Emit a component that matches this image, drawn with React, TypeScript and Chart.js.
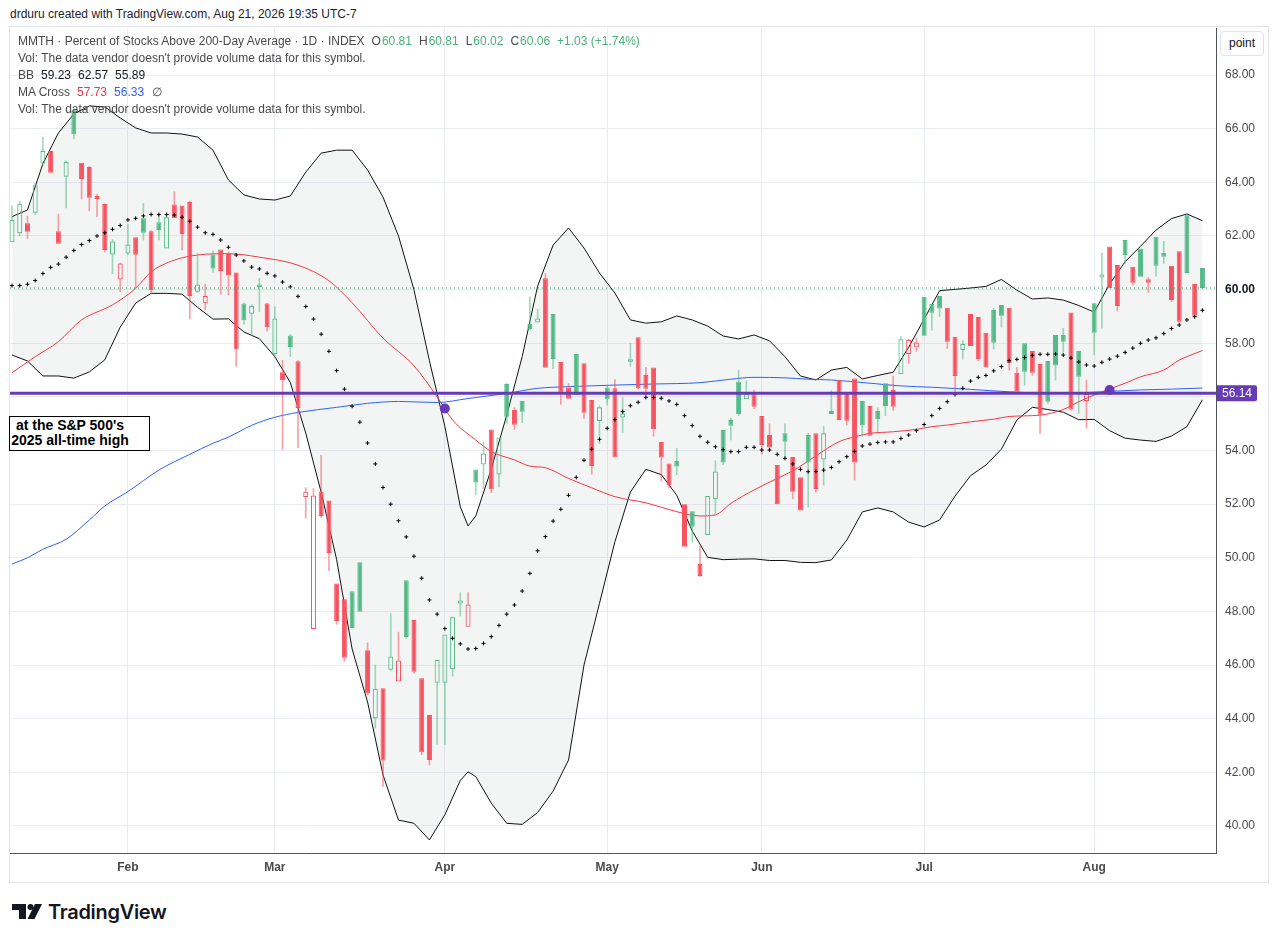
import React, { useEffect, useRef } from "react";
import { Chart, registerables } from "chart.js";

Chart.register(...registerables);

const FONT = '"Liberation Sans", Arial, sans-serif';

// Daily candles, index 1..155 (Jan 9 2026 – Aug 21 2026)
const openV = [
  61.77, 62.10, 62.47, 62.87, 64.70, 65.17, 62.18, 64.21, 66.69, 64.73,
  64.57, 63.49, 63.19, 61.31, 60.38, 61.35, 61.95, 62.66, 62.18, 62.51,
  61.53, 63.17, 63.14, 63.27, 59.92, 59.49, 61.31, 61.50, 61.37, 60.64,
  59.48, 59.10, 60.19, 59.48, 57.59, 56.92, 58.29, 57.33, 52.27, 47.35,
  52.46, 52.14, 49.04, 48.45, 48.75, 49.83, 46.55, 44.02, 45.14, 45.83,
  45.39, 49.16, 47.68, 45.51, 44.14, 45.34, 45.34, 45.84, 48.30, 47.43,
  53.29, 53.48, 54.78, 53.11, 56.48, 55.51, 55.85, 58.72, 58.77, 60.42,
  59.09, 57.30, 56.35, 57.60, 57.25, 55.88, 55.10, 56.35, 56.32, 55.23,
  57.31, 58.22, 56.82, 57.10, 54.32, 53.52, 53.61, 52.00, 51.74, 49.77,
  50.85, 52.18, 54.77, 55.14, 56.56, 55.91, 56.10, 55.29, 54.58, 53.46,
  54.64, 53.76, 53.00, 54.58, 54.64, 53.67, 55.47, 56.63, 56.18, 56.69,
  55.85, 55.66, 55.47, 56.51, 56.26, 56.84, 57.60, 57.84, 59.73, 59.46,
  59.76, 59.32, 58.24, 57.75, 59.09, 58.98, 58.39, 59.24, 59.43, 59.32,
  56.90, 58.00, 57.71, 57.23, 57.34, 58.31, 58.31, 59.15, 57.71, 55.85,
  59.49, 60.45, 61.61, 60.92, 61.85, 60.85, 61.53, 60.39, 61.97, 61.37,
  60.89, 61.43, 62.77, 60.21, 60.81,
];
const highV = [
  63.12, 63.30, 62.74, 63.95, 65.69, 65.17, 62.82, 64.80, 66.75, 64.73,
  64.60, 63.55, 63.20, 61.87, 61.00, 62.43, 61.95, 63.22, 62.20, 62.82,
  62.85, 63.65, 63.15, 63.30, 61.35, 60.20, 61.45, 61.50, 61.40, 60.64,
  59.50, 59.45, 60.42, 59.50, 59.36, 57.36, 58.33, 57.35, 52.61, 52.58,
  53.82, 52.14, 49.04, 48.45, 48.75, 49.83, 46.83, 46.00, 45.14, 47.92,
  47.23, 49.16, 47.68, 45.51, 44.14, 46.19, 47.14, 47.80, 48.70, 48.70,
  53.29, 54.32, 54.78, 54.49, 56.50, 55.60, 55.85, 59.73, 59.27, 60.60,
  59.09, 57.30, 56.50, 57.60, 57.25, 55.88, 55.66, 56.40, 56.65, 55.97,
  58.00, 58.22, 57.10, 57.10, 54.32, 53.52, 54.08, 52.00, 51.74, 50.44,
  52.30, 53.62, 54.77, 55.20, 57.00, 56.60, 56.25, 55.29, 55.00, 53.46,
  55.00, 53.76, 53.00, 54.64, 54.64, 54.89, 56.23, 56.63, 56.18, 56.69,
  55.85, 55.66, 55.60, 56.51, 56.78, 58.25, 58.15, 58.20, 59.73, 59.46,
  59.76, 59.32, 58.24, 58.10, 59.09, 58.98, 58.39, 59.30, 59.43, 59.32,
  57.10, 58.00, 57.71, 57.23, 57.34, 58.31, 58.56, 59.15, 57.71, 56.63,
  59.49, 61.35, 61.61, 60.92, 61.85, 60.85, 61.53, 60.45, 61.97, 61.80,
  60.89, 61.43, 62.85, 60.21, 60.81,
];
const lowV = [
  61.77, 62.00, 61.90, 62.80, 64.65, 64.36, 61.71, 63.05, 65.62, 63.38,
  62.94, 62.72, 61.40, 60.60, 59.92, 61.30, 60.05, 61.85, 59.84, 61.85,
  61.53, 62.66, 61.48, 58.90, 59.90, 59.24, 60.64, 59.83, 59.80, 57.15,
  58.71, 58.29, 59.18, 58.45, 57.55, 54.04, 57.50, 54.11, 51.48, 47.35,
  51.50, 49.52, 47.52, 46.13, 47.38, 47.99, 44.90, 43.65, 41.48, 45.80,
  45.39, 47.00, 45.70, 42.66, 42.27, 43.04, 43.04, 45.59, 47.83, 47.43,
  52.36, 52.58, 52.43, 52.64, 55.01, 54.79, 55.04, 58.50, 58.77, 57.09,
  57.05, 55.72, 55.93, 56.07, 55.20, 53.12, 54.26, 55.70, 53.74, 54.67,
  57.15, 56.30, 56.00, 54.54, 52.87, 52.60, 53.10, 50.41, 50.59, 49.30,
  50.85, 51.66, 53.47, 54.40, 55.30, 55.91, 55.56, 53.86, 54.00, 52.00,
  53.70, 52.20, 51.76, 51.90, 52.45, 52.71, 55.36, 55.14, 54.95, 52.90,
  54.52, 54.55, 54.70, 55.30, 55.50, 56.84, 57.25, 57.70, 58.28, 58.49,
  58.99, 57.80, 56.07, 57.40, 57.90, 57.35, 57.10, 57.78, 58.60, 57.00,
  56.19, 56.44, 56.80, 54.64, 55.76, 56.63, 57.66, 55.50, 55.38, 54.83,
  57.56, 58.56, 60.05, 59.20, 60.98, 60.17, 60.48, 59.90, 60.50, 60.98,
  59.55, 58.75, 60.62, 59.00, 60.02,
];
const closeV = [
  62.60, 63.20, 62.16, 63.89, 65.17, 64.36, 61.71, 64.76, 65.79, 64.12,
  63.43, 63.38, 61.48, 61.79, 60.97, 61.68, 61.30, 62.12, 59.98, 62.22,
  62.70, 62.66, 62.07, 59.76, 60.19, 59.76, 60.79, 60.69, 60.54, 57.77,
  58.86, 59.39, 60.10, 58.60, 58.92, 56.62, 57.86, 55.59, 52.46, 52.32,
  51.56, 50.18, 47.64, 46.27, 47.38, 47.99, 44.94, 45.12, 42.44, 46.32,
  46.17, 47.05, 45.75, 42.75, 42.46, 46.19, 47.14, 47.78, 48.41, 48.26,
  52.81, 53.89, 52.56, 54.49, 55.26, 54.96, 55.45, 58.53, 58.92, 57.09,
  57.41, 56.16, 55.93, 56.07, 55.41, 53.42, 55.61, 55.91, 53.74, 55.38,
  57.40, 56.32, 56.30, 54.79, 53.74, 52.71, 53.40, 50.41, 51.16, 49.32,
  52.30, 53.22, 53.55, 54.92, 55.36, 56.13, 55.63, 54.21, 54.11, 52.00,
  54.33, 52.46, 51.76, 53.55, 52.57, 54.64, 55.36, 55.14, 55.11, 53.55,
  54.94, 54.55, 55.17, 55.66, 55.63, 58.15, 58.12, 58.03, 58.28, 59.14,
  59.30, 58.06, 56.78, 57.97, 57.90, 57.40, 57.10, 58.02, 59.03, 57.25,
  56.19, 56.94, 56.90, 55.33, 55.82, 57.17, 58.06, 55.53, 56.75, 56.11,
  58.39, 60.56, 60.05, 59.39, 61.29, 60.26, 60.48, 60.26, 60.89, 61.23,
  59.61, 58.80, 60.62, 59.03, 60.06,
];

// Bollinger basis (20-day SMA), one dot per candle
const basisV = [
  60.15, 60.15, 60.20, 60.34, 60.60, 60.83, 60.95, 61.21, 61.46, 61.68,
  61.83, 62.00, 62.12, 62.25, 62.39, 62.60, 62.66, 62.75, 62.80, 62.80,
  62.80, 62.78, 62.70, 62.55, 62.33, 62.12, 62.06, 61.85, 61.58, 61.29,
  61.07, 60.84, 60.77, 60.61, 60.51, 60.28, 60.10, 59.75, 59.37, 58.90,
  58.34, 57.70, 56.98, 56.29, 55.65, 55.06, 54.28, 53.50, 52.62, 52.00,
  51.38, 50.78, 50.06, 49.24, 48.43, 47.90, 47.36, 47.00, 46.79, 46.60,
  46.62, 46.81, 47.06, 47.48, 47.90, 48.24, 48.76, 49.42, 50.26, 50.79,
  51.37, 51.81, 52.33, 53.00, 53.64, 54.05, 54.42, 54.83, 55.15, 55.45,
  55.67, 55.80, 55.98, 55.98, 55.95, 55.85, 55.72, 55.30, 54.93, 54.53,
  54.31, 54.14, 54.03, 53.96, 53.96, 54.12, 54.12, 54.02, 54.02, 53.86,
  53.71, 53.50, 53.30, 53.21, 53.22, 53.27, 53.37, 53.58, 53.77, 53.97,
  54.17, 54.24, 54.30, 54.32, 54.32, 54.45, 54.58, 54.74, 54.97, 55.30,
  55.57, 55.82, 56.09, 56.32, 56.59, 56.73, 56.80, 56.97, 57.13, 57.35,
  57.40, 57.47, 57.55, 57.59, 57.59, 57.60, 57.56, 57.45, 57.30, 57.19,
  57.15, 57.29, 57.41, 57.52, 57.66, 57.82, 58.00, 58.12, 58.20, 58.36,
  58.55, 58.68, 58.87, 58.99, 59.23,
];

// Bollinger upper / lower bands, sampled at these candle indices
const bbIdx = [
  1, 3, 5, 7, 9, 11, 13, 15, 17, 19, 21, 23, 25, 27, 29, 31, 33, 35, 37, 39,
  41, 43, 45, 47, 49, 51, 53, 55, 57, 59, 60, 61, 63, 65, 67, 69, 71, 73, 75, 77,
  79, 81, 83, 85, 87, 89, 91, 93, 95, 97, 99, 101, 103, 105, 107, 109, 111, 113, 115, 117,
  119, 121, 123, 125, 127, 129, 131, 133, 135, 137, 139, 141, 143, 145, 147, 149, 151, 153, 155,
];
const bbUpper = [
  62.72, 62.97, 64.70, 65.84, 66.55, 66.85, 66.81, 66.40, 66.03, 65.84,
  65.84, 65.80, 65.69, 65.20, 64.09, 63.53, 63.38, 63.34, 63.49, 64.38,
  65.09, 65.20, 65.20, 64.46, 63.45, 62.00, 60.00, 57.35, 54.90, 51.90,
  51.19, 51.56, 53.31, 55.32, 57.50, 60.13, 61.66, 62.30, 61.55, 60.62,
  59.87, 58.87, 58.75, 58.80, 59.02, 58.87, 58.64, 58.27, 58.16, 58.31,
  58.09, 57.50, 56.78, 56.63, 57.00, 57.10, 56.67, 56.80, 56.92, 57.85,
  58.90, 59.96, 60.01, 60.06, 60.12, 60.38, 59.98, 59.65, 59.69, 59.61,
  59.41, 59.16, 60.21, 61.04, 61.62, 62.22, 62.65, 62.82, 62.57,
];
const bbLower = [
  57.56, 57.34, 56.78, 56.78, 56.70, 56.93, 57.38, 58.60, 59.50, 59.86,
  59.86, 59.83, 59.34, 58.90, 58.91, 58.42, 58.17, 57.50, 56.54, 54.65,
  52.44, 49.93, 46.60, 44.62, 41.90, 40.22, 40.10, 39.48, 40.42, 41.70,
  42.02, 41.84, 40.85, 40.10, 40.06, 40.50, 41.30, 42.46, 46.00, 48.30,
  50.60, 52.45, 53.30, 53.10, 52.33, 51.00, 50.02, 49.93, 49.95, 49.96,
  49.90, 49.90, 49.83, 49.82, 49.92, 50.66, 51.71, 51.86, 51.71, 51.33,
  51.15, 51.41, 52.30, 53.06, 53.46, 54.05, 55.14, 55.61, 55.53, 55.43,
  55.15, 55.16, 54.74, 54.46, 54.39, 54.34, 54.54, 54.89, 55.89,
];

// MA Cross: 50-day (red) and 200-day (blue) moving averages
const ma50Idx = [
  1, 4, 7, 10, 14, 17, 19, 22, 25, 29, 33, 38, 42, 45, 49, 53, 56, 58, 61, 63,
  66, 68, 70, 73, 76, 79, 83, 87, 90, 92, 94, 97, 100, 102, 105, 108, 110, 112, 115, 118,
  120, 122, 125, 128, 130, 134, 137, 139, 142, 145, 147, 150, 152, 155,
];
const ma50V = [
  56.90, 57.50, 58.06, 58.87, 59.43, 60.05, 60.66, 61.10, 61.29, 61.34,
  61.21, 60.91, 60.33, 59.51, 58.19, 57.16, 56.00, 55.14, 54.39, 53.96,
  53.65, 53.42, 53.36, 52.96, 52.61, 52.28, 52.05, 51.72, 51.56, 51.60,
  52.03, 52.53, 52.96, 53.24, 53.80, 54.33, 54.51, 54.64, 54.70, 54.79,
  54.89, 54.95, 55.07, 55.17, 55.27, 55.32, 55.53, 55.82, 56.19, 56.51,
  56.75, 57.00, 57.37, 57.73,
];
const ma200Idx = [
  1, 3, 5, 8, 11, 13, 16, 20, 24, 27, 29, 32, 35, 38, 43, 47, 51, 56, 60, 65,
  69, 73, 79, 84, 90, 94, 97, 101, 104, 107, 112, 116, 120, 125, 130, 137, 142, 147, 151, 155,
];
const ma200V = [
  49.77, 50.00, 50.32, 50.69, 51.41, 51.93, 52.47, 53.27, 53.86, 54.27,
  54.50, 54.94, 55.24, 55.42, 55.61, 55.76, 55.83, 55.79, 55.94, 56.13,
  56.32, 56.38, 56.44, 56.48, 56.53, 56.66, 56.73, 56.71, 56.66, 56.63,
  56.51, 56.41, 56.36, 56.28, 56.19, 56.13, 56.19, 56.26, 56.29, 56.33,
];
// MA cross markers
const crossIdx = [57, 143];
const crossV = [55.57, 56.26];

// Axis ticks / labels
const monthIdx = [16, 35, 57, 78, 98, 119, 141];
const monthLabels = ["Feb", "Mar", "Apr", "May", "Jun", "Jul", "Aug"];
const yTicks = [40, 42, 44, 46, 48, 50, 52, 54, 56, 58, 60, 62, 64, 66, 68];
const xRange = [0.741, 156.76];
const yRange = [38.993, 69.755];

// Horizontal line (S&P 500 2025 all-time high level) and last close
const hLineValue = 56.14;
const lastClose = 60.06;

const GREEN = "#53b987";
const RED = "#f7525f";
const GREEN_W = "rgba(83,185,135,0.55)";
const RED_W = "rgba(247,82,95,0.55)";
const PURPLE = "#673ab7";
const GRID = "#e9edf2";
const TXT = "#4a4a4a";

function buildConfig(): any {
  const n = closeV.length;
  const up = (i: number) => (i === 0 ? closeV[0] >= openV[0] : closeV[i] >= closeV[i - 1]);
  const bodies: any[] = [];
  const bodyBg: string[] = [];
  const bodyBorder: string[] = [];
  const wickHi: any[] = [];
  const wickHiC: string[] = [];
  const wickLo: any[] = [];
  const wickLoC: string[] = [];
  for (let i = 0; i < n; i++) {
    const o = openV[i], c = closeV[i];
    const top = Math.max(o, c), bot = Math.min(o, c);
    const col = up(i) ? GREEN : RED;
    const wc = up(i) ? GREEN_W : RED_W;
    bodies.push({ x: i + 1, y: [o, c] });
    bodyBg.push(c > o ? "rgba(0,0,0,0)" : col);
    bodyBorder.push(col);
    if (highV[i] > top + 0.01) {
      wickHi.push({ x: i + 1, y: [top, highV[i]] });
      wickHiC.push(wc);
    }
    if (lowV[i] < bot - 0.01) {
      wickLo.push({ x: i + 1, y: [lowV[i], bot] });
      wickLoC.push(wc);
    }
  }

  const line = (idx: number[], vals: number[]) => idx.map((x, k) => ({ x, y: vals[k] }));

  const priceTag = {
    id: "priceTag",
    afterDraw(chart: any) {
      const { ctx, chartArea, scales } = chart;
      const y = scales.y.getPixelForValue(hLineValue);
      const x0 = chartArea.right + 1;
      const w = 40, h = 16;
      ctx.save();
      ctx.fillStyle = PURPLE;
      ctx.beginPath();
      ctx.moveTo(x0, y - h / 2);
      ctx.lineTo(x0 + w - 2, y - h / 2);
      ctx.quadraticCurveTo(x0 + w, y - h / 2, x0 + w, y - h / 2 + 2);
      ctx.lineTo(x0 + w, y + h / 2 - 2);
      ctx.quadraticCurveTo(x0 + w, y + h / 2, x0 + w - 2, y + h / 2);
      ctx.lineTo(x0, y + h / 2);
      ctx.closePath();
      ctx.fill();
      ctx.fillStyle = "#ffffff";
      ctx.font = `12px ${FONT}`;
      ctx.textAlign = "center";
      ctx.textBaseline = "middle";
      ctx.fillText(hLineValue.toFixed(2), x0 + w / 2, y + 1);
      ctx.restore();
    },
  };

  const zeroPad = (s: any) => {
    s.paddingTop = 0;
    s.paddingBottom = 0;
    s.paddingLeft = 0;
    s.paddingRight = 0;
  };

  return {
    type: "bar",
    data: {
      datasets: [
        {
          type: "line",
          data: line(bbIdx, bbUpper),
          borderColor: "#111",
          borderWidth: 1,
          pointRadius: 0,
          fill: "+1",
          backgroundColor: "rgba(100,120,120,0.075)",
          order: 10,
        },
        {
          type: "line",
          data: line(bbIdx, bbLower),
          borderColor: "#111",
          borderWidth: 1,
          pointRadius: 0,
          fill: false,
          order: 9,
        },
        {
          type: "line",
          data: line(ma200Idx, ma200V),
          borderColor: "#2962ff",
          borderWidth: 1,
          pointRadius: 0,
          cubicInterpolationMode: "monotone",
          fill: false,
          order: 8,
        },
        {
          type: "line",
          data: line(ma50Idx, ma50V),
          borderColor: "#f23645",
          borderWidth: 1,
          pointRadius: 0,
          cubicInterpolationMode: "monotone",
          fill: false,
          order: 7,
        },
        {
          type: "bar",
          data: wickHi,
          backgroundColor: wickHiC,
          borderWidth: 0,
          barThickness: 1,
          grouped: false,
          order: 6,
        },
        {
          type: "bar",
          data: wickLo,
          backgroundColor: wickLoC,
          borderWidth: 0,
          barThickness: 1,
          grouped: false,
          order: 6,
        },
        {
          type: "bar",
          data: bodies,
          backgroundColor: bodyBg,
          borderColor: bodyBorder,
          borderWidth: 1,
          borderSkipped: false,
          barThickness: 5,
          minBarLength: 1,
          inflateAmount: 0,
          grouped: false,
          order: 5,
        },
        {
          type: "line",
          data: basisV.map((v, k) => ({ x: k + 1, y: v })),
          showLine: false,
          pointStyle: "cross",
          pointRadius: 2,
          pointBorderWidth: 1,
          pointBorderColor: "#000",
          pointBackgroundColor: "#000",
          order: 4,
        },
        {
          type: "line",
          data: [
            { x: xRange[0], y: hLineValue },
            { x: xRange[1], y: hLineValue },
          ],
          borderColor: PURPLE,
          borderWidth: 3,
          pointRadius: 0,
          fill: false,
          order: 3,
        },
        {
          type: "line",
          data: [
            { x: xRange[0], y: lastClose },
            { x: xRange[1], y: lastClose },
          ],
          borderColor: "#1fa463",
          borderWidth: 1,
          borderDash: [1, 3],
          pointRadius: 0,
          fill: false,
          order: 2,
        },
        {
          type: "line",
          data: line(crossIdx, crossV),
          showLine: false,
          pointRadius: 5,
          pointBackgroundColor: PURPLE,
          pointBorderWidth: 0,
          order: 1,
        },
      ],
    },
    options: {
      animation: false,
      responsive: false,
      maintainAspectRatio: false,
      events: [],
      layout: { autoPadding: false, padding: { left: 0, right: 0, top: 1, bottom: 0 } },
      plugins: { legend: { display: false }, tooltip: { enabled: false } },
      scales: {
        x: {
          type: "linear",
          min: xRange[0],
          max: xRange[1],
          offset: false,
          grid: { color: GRID, offset: false, drawTicks: false },
          border: { display: true, color: "#50535e" },
          afterBuildTicks: (s: any) => {
            s.ticks = monthIdx.map((v) => ({ value: v }));
          },
          afterFit: (s: any) => {
            s.height = 29;
            zeroPad(s);
          },
          ticks: {
            autoSkip: false,
            maxRotation: 0,
            padding: 7,
            color: TXT,
            font: { family: FONT, size: 12, weight: "bold" },
            callback: (v: any) => {
              const k = monthIdx.indexOf(Number(v));
              return k >= 0 ? monthLabels[k] : "";
            },
          },
        },
        y: {
          type: "linear",
          position: "right",
          min: yRange[0],
          max: yRange[1],
          beginAtZero: false,
          grid: { color: GRID, drawTicks: false },
          border: { display: true, color: "#50535e" },
          afterBuildTicks: (s: any) => {
            s.ticks = yTicks.map((v) => ({ value: v }));
          },
          afterFit: (s: any) => {
            s.width = 52;
            zeroPad(s);
          },
          ticks: {
            padding: 9,
            color: (ctx: any) => (ctx.tick && ctx.tick.value === 60 ? "#131722" : TXT),
            font: (ctx: any) => ({
              family: FONT,
              size: 12,
              weight: ctx.tick && ctx.tick.value === 60 ? "bold" : "normal",
            }),
            callback: (v: any) => Number(v).toFixed(2),
          },
        },
      },
    },
    plugins: [priceTag],
  };
}

const legendLine: React.CSSProperties = {
  position: "absolute",
  left: 18,
  height: 17,
  lineHeight: "17px",
  fontSize: 12,
  color: TXT,
  whiteSpace: "nowrap",
};

export default function App() {
  const ref = useRef<HTMLCanvasElement>(null);
  useEffect(() => {
    const chart = new Chart(ref.current as HTMLCanvasElement, buildConfig());
    return () => chart.destroy();
  }, []);

  const G = "#4cb07e";
  return (
    <div
      style={{
        position: "absolute",
        left: 0,
        top: 0,
        width: 1278,
        height: 942,
        background: "#ffffff",
        fontFamily: FONT,
        overflow: "hidden",
      }}
    >
      <div style={{ position: "absolute", left: 10, top: 6, fontSize: 12, lineHeight: "16px", color: "#1e222d" }}>
        drduru created with TradingView.com, Aug 21, 2026 19:35 UTC-7
      </div>
      <div
        style={{
          position: "absolute",
          left: 9,
          top: 26,
          width: 1258,
          height: 855,
          border: "1px solid #e0e3eb",
        }}
      />
      <canvas
        ref={ref}
        width={1258}
        height={855}
        style={{ position: "absolute", left: 10, top: 27, width: 1258, height: 855, display: "block" }}
      />
      <div style={{ ...legendLine, top: 33 }}>
        MMTH · Percent of Stocks Above 200-Day Average · 1D · INDEX
        <span style={{ marginLeft: 7 }}>O</span>
        <span style={{ color: G, marginLeft: 1 }}>60.81</span>
        <span style={{ marginLeft: 7 }}>H</span>
        <span style={{ color: G, marginLeft: 1 }}>60.81</span>
        <span style={{ marginLeft: 7 }}>L</span>
        <span style={{ color: G, marginLeft: 1 }}>60.02</span>
        <span style={{ marginLeft: 7 }}>C</span>
        <span style={{ color: G, marginLeft: 1 }}>60.06</span>
        <span style={{ color: G, marginLeft: 7 }}>+1.03 (+1.74%)</span>
      </div>
      <div style={{ ...legendLine, top: 50 }}>Vol: The data vendor doesn't provide volume data for this symbol.</div>
      <div style={{ ...legendLine, top: 67 }}>
        BB
        <span style={{ color: "#131722", marginLeft: 7 }}>59.23</span>
        <span style={{ color: "#131722", marginLeft: 7 }}>62.57</span>
        <span style={{ color: "#131722", marginLeft: 7 }}>55.89</span>
      </div>
      <div style={{ ...legendLine, top: 84 }}>
        MA Cross
        <span style={{ color: "#f23645", marginLeft: 7 }}>57.73</span>
        <span style={{ color: "#2962ff", marginLeft: 7 }}>56.33</span>
        <span style={{ marginLeft: 8 }}>∅</span>
      </div>
      <div style={{ ...legendLine, top: 101 }}>Vol: The data vendor doesn't provide volume data for this symbol.</div>

      <div
        style={{
          position: "absolute",
          left: 1220,
          top: 31,
          width: 42,
          height: 23,
          border: "1px solid #e0e3eb",
          borderRadius: 4,
          fontSize: 12,
          lineHeight: "23px",
          textAlign: "center",
          color: "#131722",
          background: "#fff",
        }}
      >
        point
      </div>

      <div
        style={{
          position: "absolute",
          left: 9,
          top: 416,
          width: 139,
          height: 33,
          border: "1px solid #000",
          background: "#fff",
          overflow: "hidden",
        }}
      >
        <div
          style={{
            position: "absolute",
            left: -10,
            top: 1,
            width: 140,
            textAlign: "center",
            fontWeight: "bold",
            fontSize: 14,
            lineHeight: "15px",
            color: "#000",
            whiteSpace: "nowrap",
          }}
        >
          at the S&amp;P 500's
          <br />
          2025 all-time high
        </div>
      </div>

      <svg style={{ position: "absolute", left: 12, top: 904 }} width={30} height={15} viewBox="0 0 30 15">
        <path d="M0 0 H14 V15 H7 V6 H0 Z" fill="#131722" />
        <circle cx={18.5} cy={3} r={3} fill="#131722" />
        <path d="M23 0 H30 L22.5 15 H15.5 Z" fill="#131722" />
      </svg>
      <div
        style={{
          position: "absolute",
          left: 48,
          top: 900,
          fontFamily: 'Inter, "Liberation Sans", sans-serif',
          fontWeight: 600,
          fontSize: 20,
          lineHeight: "24px",
          color: "#131722",
          letterSpacing: -0.3,
        }}
      >
        TradingView
      </div>
    </div>
  );
}
